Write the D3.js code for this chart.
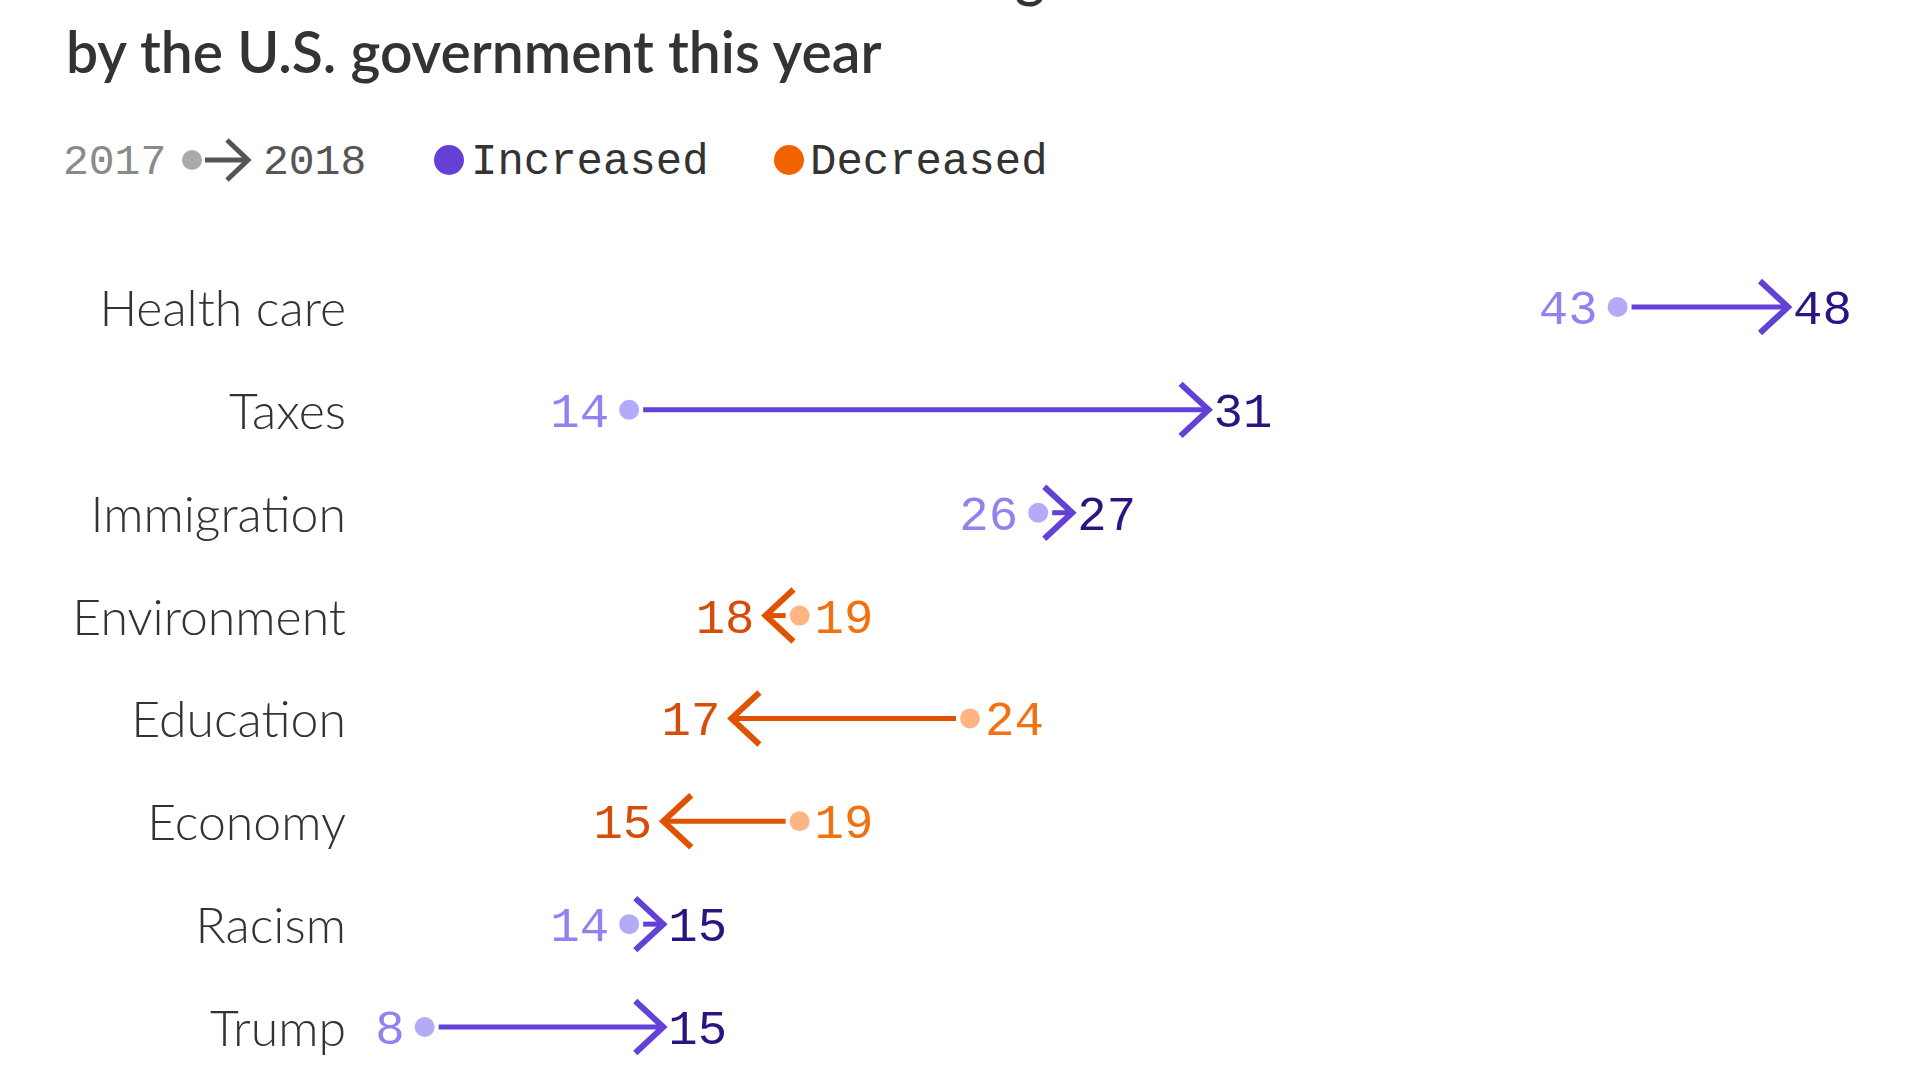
<!DOCTYPE html>
<html>
<head>
<meta charset="utf-8">
<script src="https://cdn.jsdelivr.net/npm/d3@7"></script>
<style>
  html, body { margin: 0; padding: 0; background: #ffffff; }
  svg { display: block; }
</style>
</head>
<body>
<svg id="chart" width="1920" height="1080"></svg>
<script>
// ---- data ----
const categories = ["Health care", "Taxes", "Immigration", "Environment", "Education", "Economy", "Racism", "Trump"];
const values2017 = [43, 14, 26, 19, 24, 19, 14, 8];
const values2018 = [48, 31, 27, 18, 17, 15, 15, 15];
const titleLines = ["Issues Americans think are the most deserving", "by the U.S. government this year"];
const legendYears = ["2017", "2018"];
const legendLabels = ["Increased", "Decreased"];

// ---- styles ----
const C = {
  inc: { dot: "#b4abf8", startText: "#9182f0", line: "#6441d6", endText: "#2c1382", legend: "#6441d6" },
  dec: { dot: "#fdb584", startText: "#f2700f", line: "#df5300", endText: "#d54d08", legend: "#f26200" }
};
const MONO = "'Liberation Mono', 'Cousine', monospace";
const SANS = "Lato, 'Noto Sans', sans-serif";

const svg = d3.select("#chart");

const x = d3.scaleLinear().domain([0, 48]).range([152, 1788]);
const y = d3.scalePoint().domain(categories).range([307, 1027]);

// ---- title ----
svg.append("text")
  .attr("x", 1045).attr("y", -4)
  .attr("text-anchor", "end")
  .attr("font-family", SANS).attr("font-size", 57).attr("font-weight", 600)
  .attr("fill", "#333333")
  .text(titleLines[0]);
svg.append("text")
  .attr("x", 66).attr("y", 73)
  .attr("font-family", SANS).attr("font-size", 57).attr("font-weight", 600)
  .attr("fill", "#333333")
  .text(titleLines[1]);

// ---- legend ----
const LY = 160;
const lg = svg.append("g").attr("transform", `translate(0,${LY})`);
lg.append("text").attr("x", 63).attr("y", 0).attr("dy", 2).attr("dominant-baseline", "central")
  .attr("font-family", MONO).attr("font-size", 43).attr("fill", "#8a8a8a").text(legendYears[0]);
lg.append("circle").attr("cx", 192).attr("cy", 0).attr("r", 10).attr("fill", "#aaaaaa");
lg.append("path").attr("d", "M205,0 L248,0").attr("stroke", "#555").attr("stroke-width", 5);
lg.append("path").attr("d", "M227,-20 L248,0 L227,20").attr("fill", "none").attr("stroke", "#555").attr("stroke-width", 5);
lg.append("text").attr("x", 263).attr("y", 0).attr("dy", 2).attr("dominant-baseline", "central")
  .attr("font-family", MONO).attr("font-size", 43).attr("fill", "#555555").text(legendYears[1]);

const legItems = [
  { label: legendLabels[0], color: C.inc.legend, cx: 449, tx: 471 },
  { label: legendLabels[1], color: C.dec.legend, cx: 789, tx: 810 }
];
legItems.forEach(it => {
  lg.append("circle").attr("cx", it.cx).attr("cy", 0).attr("r", 15).attr("fill", it.color);
  lg.append("text").attr("x", it.tx).attr("y", 0).attr("dy", 2).attr("dominant-baseline", "central")
    .attr("font-family", MONO).attr("font-size", 44).attr("fill", "#333333").text(it.label);
});

// ---- rows ----
const rows = categories.map((c, i) => ({ cat: c, a: values2017[i], b: values2018[i] }));

// category labels
svg.selectAll("text.cat").data(rows).join("text")
  .attr("class", "cat")
  .attr("x", 346)
  .attr("y", d => y(d.cat))
  .attr("text-anchor", "end")
  .attr("dominant-baseline", "central")
  .attr("font-family", SANS)
  .attr("font-size", 50)
  .attr("font-weight", 300)
  .attr("fill", "#333333")
  .text(d => d.cat);

const R = 10;
const g = svg.selectAll("g.row").data(rows).join("g").attr("class", "row");

g.each(function (d) {
  const sel = d3.select(this);
  const up = d.b >= d.a;
  const col = up ? C.inc : C.dec;
  const dir = up ? 1 : -1;
  const cy = y(d.cat);
  const xa = x(d.a), xb = x(d.b);

  // connecting line
  sel.append("path")
    .attr("d", d3.line()([[xa + dir * (R + 4), cy], [xb - dir * 2, cy]]))
    .attr("stroke", col.line).attr("stroke-width", 5).attr("fill", "none");
  // chevron
  sel.append("path")
    .attr("d", d3.line()([[xb - dir * 28, cy - 26], [xb, cy], [xb - dir * 28, cy + 26]]))
    .attr("stroke", col.line).attr("stroke-width", 6).attr("fill", "none")
    .attr("stroke-linejoin", "miter");
  // start dot
  sel.append("circle").attr("cx", xa).attr("cy", cy).attr("r", R).attr("fill", col.dot);

  // start label
  sel.append("text")
    .attr("x", up ? xa - (R + 10) : xa + (R + 5))
    .attr("y", cy).attr("dy", 4)
    .attr("text-anchor", up ? "end" : "start")
    .attr("dominant-baseline", "central")
    .attr("font-family", MONO).attr("font-size", 49)
    .attr("fill", col.startText)
    .text(d.a);
  // end label
  sel.append("text")
    .attr("x", up ? xb + 5 : xb - 11)
    .attr("y", cy).attr("dy", 4)
    .attr("text-anchor", up ? "start" : "end")
    .attr("dominant-baseline", "central")
    .attr("font-family", MONO).attr("font-size", 49)
    .attr("fill", col.endText)
    .text(d.b);
});
</script>
</body>
</html>
